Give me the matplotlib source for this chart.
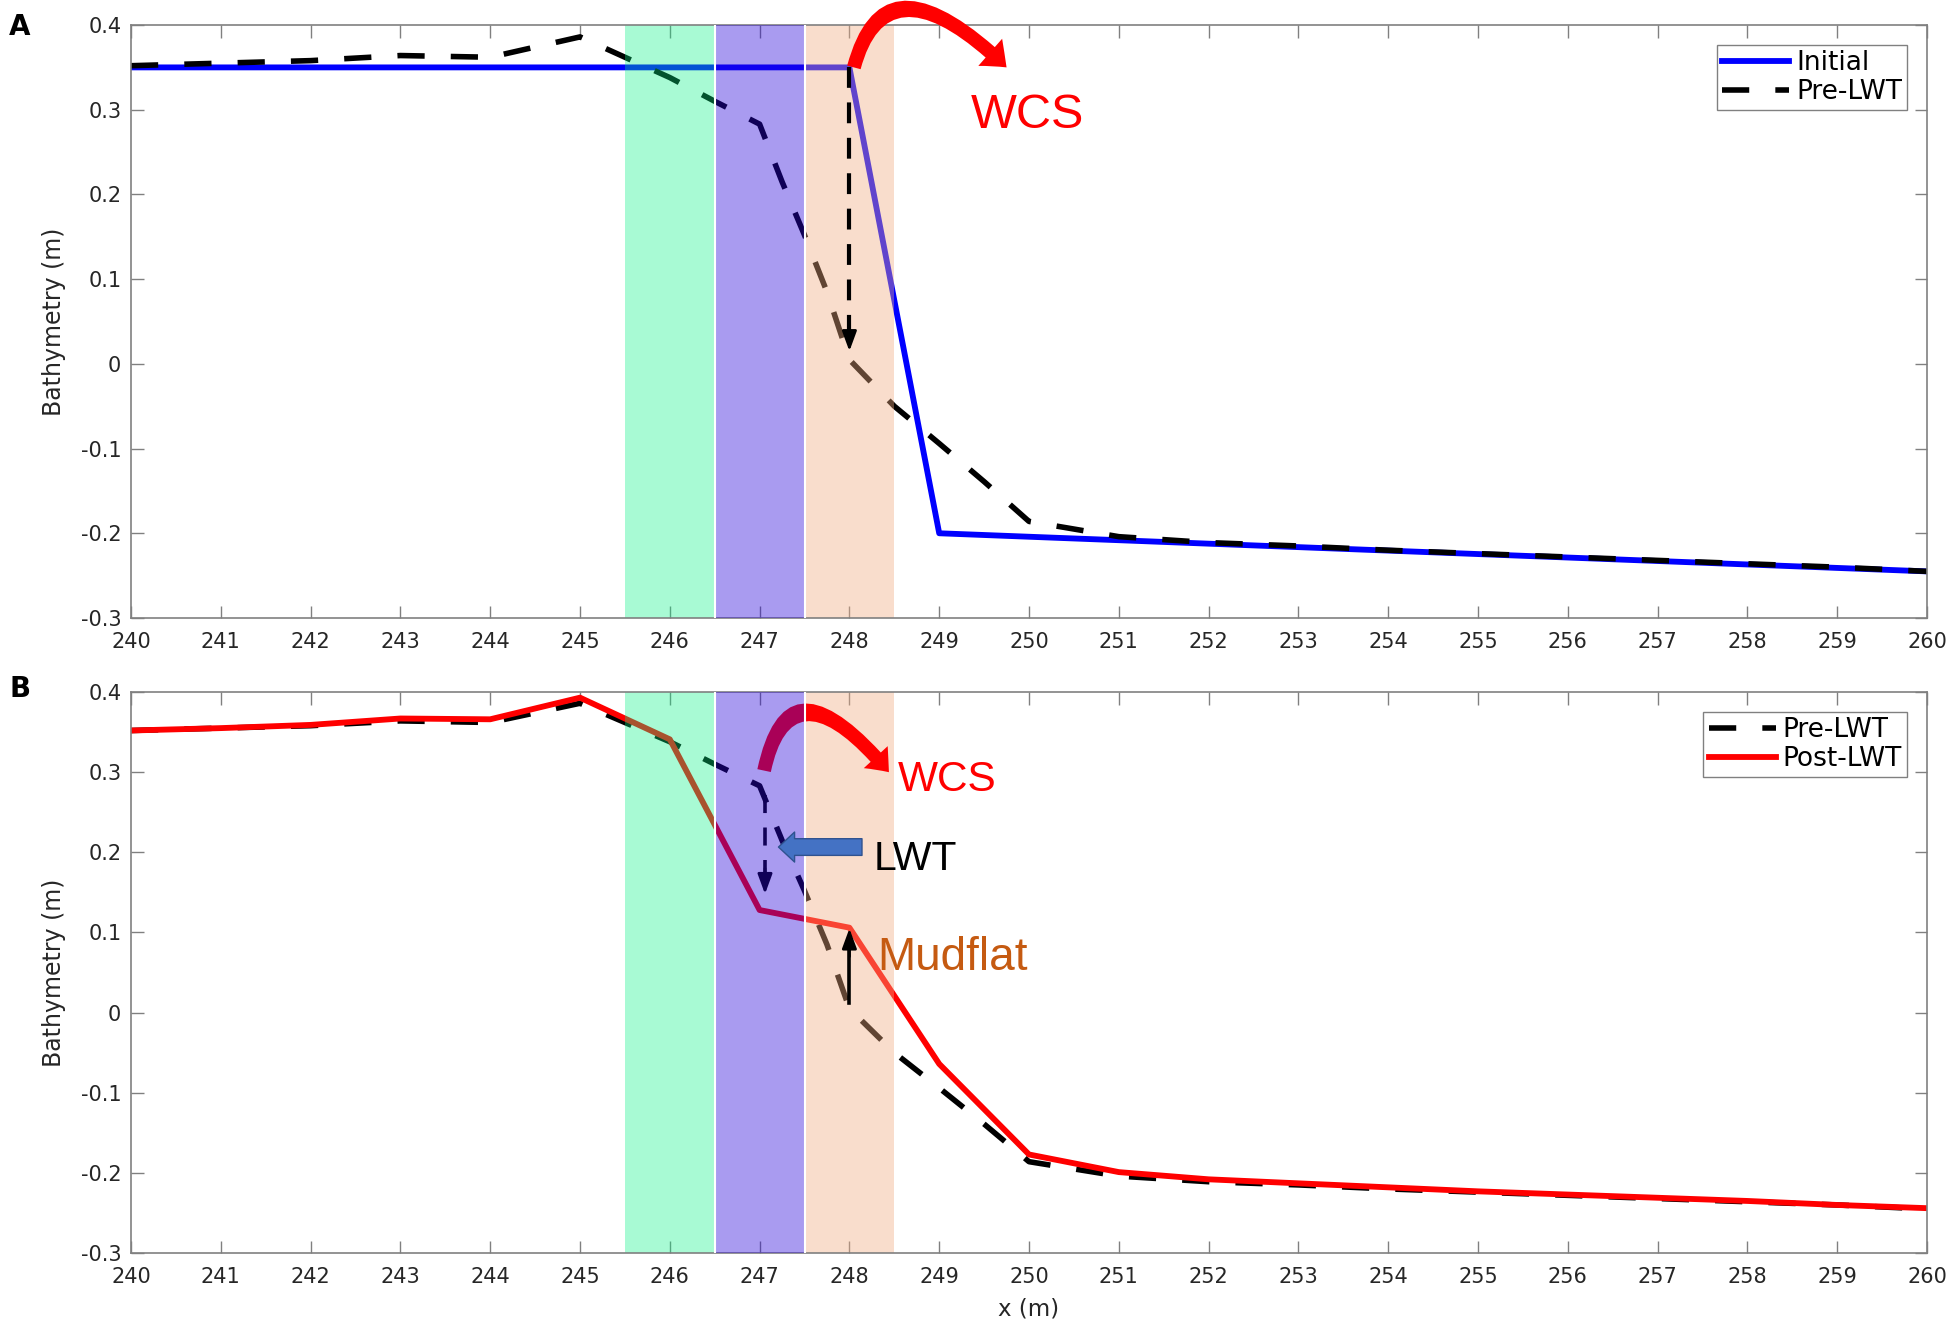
import numpy as np
from matplotlib import pyplot as plt
from matplotlib.ticker import FuncFormatter, MultipleLocator

plt.rcParams["axes.unicode_minus"] = False

X_MIN = 240
X_MAX = 260
Y_MIN = -0.3
Y_MAX = 0.4

# shaded zones along the profile
zone_edges = [245.5, 246.5, 247.5, 248.5]

# bathymetry profiles (m)
initial_x = [240, 248, 249, 260]
initial_y = [0.35, 0.35, -0.2, -0.245]

pre_x = [240, 241, 242, 243, 244, 245, 246, 246.5, 247, 247.25, 247.5, 247.75,
         248, 248.5, 249, 249.5, 250, 250.5, 251, 252, 253, 254, 255, 256,
         257, 258, 259, 260]
pre_y = [0.352, 0.355, 0.358, 0.364, 0.362, 0.386, 0.338, 0.31, 0.283, 0.215,
         0.152, 0.085, 0.005, -0.05, -0.094, -0.139, -0.186, -0.195, -0.204,
         -0.211, -0.215, -0.22, -0.224, -0.228, -0.232, -0.236, -0.24, -0.245]

post_x = [240, 241, 242, 243, 244, 245, 246, 247, 248, 249, 250, 251, 252,
          253, 254, 255, 256, 257, 258, 259, 260]
post_y = [0.352, 0.355, 0.359, 0.367, 0.366, 0.393, 0.341, 0.128, 0.106,
          -0.064, -0.177, -0.199, -0.208, -0.213, -0.218, -0.223, -0.227,
          -0.231, -0.235, -0.24, -0.244]

# overlay colour, alpha, zorder per zone (purple sits above everything)
ZONE_STYLE = [((0.024, 0.945, 0.518), 0.35, 2.3),
              ((0.165, 0.02, 0.855), 0.40, 4.0),
              ((0.949, 0.675, 0.502), 0.40, 2.3)]

GREY = "#808080"
TXT = "#262626"
NOTE_FONT = ["Liberation Sans", "DejaVu Sans"]


def style_axes(ax):
    ax.set_xlim(X_MIN, X_MAX)
    ax.set_ylim(Y_MIN, Y_MAX)
    ax.xaxis.set_major_locator(MultipleLocator(1))
    ax.yaxis.set_major_locator(MultipleLocator(0.1))
    ax.yaxis.set_major_formatter(FuncFormatter(lambda v, p: "%g" % round(v, 2)))
    ax.tick_params(direction="in", length=9, width=1, color=GREY,
                   labelcolor=TXT, labelsize=15, top=True, right=True)
    ax.tick_params(axis="x", pad=10)
    ax.tick_params(axis="y", pad=7)
    for sp in ax.spines.values():
        sp.set_color(GREY)
        sp.set_linewidth(1.2)
    ax.set_ylabel("Bathymetry (m)", fontsize=17, color=TXT)
    ax.yaxis.set_label_coords(-0.036, 0.5)


def draw_zones(ax):
    for (x0, x1), (col, a, z) in zip(zip(zone_edges[:-1], zone_edges[1:]), ZONE_STYLE):
        ax.axvspan(x0, x1, color=col, alpha=a, lw=0, zorder=z)
    for x in zone_edges[1:-1]:
        ax.axvline(x, color="white", lw=1.5, zorder=4.5)


def head(ax, start, tip, color="black", z=5, hl=0.6, hw=0.22, lw=2):
    ax.annotate("", xy=tip, xytext=start,
                arrowprops=dict(arrowstyle="-|>,head_length=%g,head_width=%g" % (hl, hw),
                                color=color, lw=lw, shrinkA=0, shrinkB=0,
                                mutation_scale=20),
                zorder=z)


def legend(ax):
    ax.legend(loc="upper right", fontsize=19, frameon=True, fancybox=False,
              framealpha=1, edgecolor=GREY, borderaxespad=0.75,
              handlelength=2.55, handletextpad=0.25, borderpad=0.2,
              labelspacing=0.1).get_frame().set_linewidth(1.0)


fig = plt.figure(figsize=(19.55, 13.25), dpi=100)
ax_a = fig.add_axes([0.067, 0.5336, 0.9187, 0.4475])
ax_b = fig.add_axes([0.067, 0.0543, 0.9187, 0.4234])

# ---- panel A
ax_a.plot(initial_x, initial_y, color="#0000ff", lw=4.2, label="Initial", zorder=2)
ax_a.plot(pre_x, pre_y, color="black", lw=4, dashes=(4.9, 4.7), label="Pre-LWT", zorder=2.1)
draw_zones(ax_a)
style_axes(ax_a)
legend(ax_a)

ax_a.annotate("", xy=(249.75, 0.35), xytext=(248.05, 0.35),
              arrowprops=dict(arrowstyle="simple,head_length=0.8,head_width=1.3,tail_width=0.5",
                              connectionstyle="angle3,angleA=75,angleB=-44",
                              fc="red", ec="none", mutation_scale=20,
                              shrinkA=0, shrinkB=0, clip_on=False),
              annotation_clip=False, zorder=6)
ax_a.plot([248.0, 248.0], [0.35, 0.04], color="black", lw=3, dashes=(5, 3.5), zorder=5)
head(ax_a, (248.0, 0.05), (248.0, 0.015))
ax_a.text(249.35, 0.279, "WCS", color="red", fontsize=35, family=NOTE_FONT,
          va="baseline", ha="left", zorder=6)

# ---- panel B
ax_b.plot(pre_x, pre_y, color="black", lw=4, dashes=(4.9, 4.7), label="Pre-LWT", zorder=2)
ax_b.plot(post_x, post_y, color="#ff0000", lw=4.2, label="Post-LWT", zorder=2.1)
draw_zones(ax_b)
style_axes(ax_b)
legend(ax_b)
ax_b.set_xlabel("x (m)", fontsize=16.5, color=TXT)
ax_b.xaxis.set_label_coords(0.5, -0.08)

ax_b.annotate("", xy=(248.44, 0.30), xytext=(247.05, 0.302),
              arrowprops=dict(arrowstyle="simple,head_length=0.8,head_width=1.3,tail_width=0.55",
                              connectionstyle="angle3,angleA=78,angleB=-50",
                              fc="red", ec="none", mutation_scale=18,
                              shrinkA=0, shrinkB=0),
              zorder=3)
ax_b.plot([247.06, 247.06], [0.272, 0.17], color="black", lw=2.6, dashes=(5, 4), zorder=3)
head(ax_b, (247.06, 0.18), (247.06, 0.148), z=3)
ax_b.annotate("", xy=(247.21, 0.2066), xytext=(248.14, 0.2066),
              arrowprops=dict(arrowstyle="simple,head_length=0.58,head_width=1.08,tail_width=0.6",
                              fc="#4472C4", ec="#2F528F", lw=1, mutation_scale=20,
                              shrinkA=0, shrinkB=0),
              zorder=5)
ax_b.plot([248.0, 248.0], [0.012, 0.08], color="black", lw=2.6, zorder=5)
head(ax_b, (248.0, 0.07), (248.0, 0.105))

ax_b.text(248.54, 0.277, "WCS", color="red", fontsize=30.5, family=NOTE_FONT,
          va="baseline", ha="left", zorder=6)
ax_b.text(248.27, 0.1775, "LWT", color="black", fontsize=29.5, family=NOTE_FONT,
          va="baseline", ha="left", zorder=6)
ax_b.text(248.31, 0.053, "Mudflat", color="#C55A11", fontsize=33, family=NOTE_FONT,
          va="baseline", ha="left", zorder=6)

fig.text(9 / 1955, 1 - 13 / 1325, "A", fontsize=20, fontweight="bold", va="top", ha="left")
fig.text(9 / 1955, 1 - 675 / 1325, "B", fontsize=20, fontweight="bold", va="top", ha="left")

fig.savefig("out.png", dpi=100)
